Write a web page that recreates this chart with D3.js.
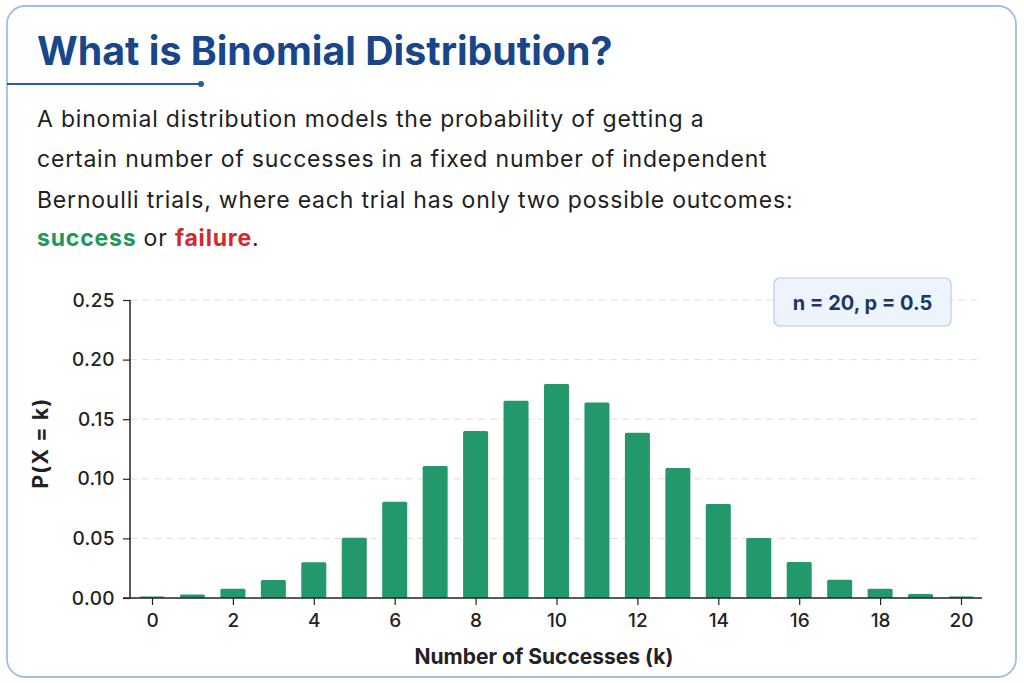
<!DOCTYPE html>
<html>
<head>
<meta charset="utf-8">
<script src="https://d3js.org/d3.v7.min.js"></script>
<style>
  html, body { margin: 0; padding: 0; background: #fff; }
  svg { display: block; }
</style>
</head>
<body>
<div id="chart"></div>
<script>
// chart data
var kValues = [0, 1, 2, 3, 4, 5, 6, 7, 8, 9, 10, 11, 12, 13, 14, 15, 16, 17, 18, 19, 20];
var probs = [0.0012, 0.0030, 0.0078, 0.0150, 0.0300, 0.0505, 0.0808, 0.1107, 0.1400, 0.1655,
             0.1795, 0.1640, 0.1387, 0.1090, 0.0788, 0.0503, 0.0302, 0.0153, 0.0078, 0.0034, 0.0013];
var yTicks = [0, 0.05, 0.10, 0.15, 0.20, 0.25];
var xTicks = [0, 2, 4, 6, 8, 10, 12, 14, 16, 18, 20];

var titleText = "What is Binomial Distribution?";
var bodyLines = [
  "A binomial distribution models the probability of getting a",
  "certain number of successes in a fixed number of independent",
  "Bernoulli trials, where each trial has only two possible outcomes:"
];
var legendText = "n = 20, p = 0.5";

var W = 1024, H = 683;
var font = "Inter, 'Open Sans', sans-serif";

var svg = d3.select("#chart").append("svg")
  .attr("width", W)
  .attr("height", H);

// card
svg.append("rect")
  .attr("x", 7).attr("y", 6)
  .attr("width", 1009).attr("height", 671)
  .attr("rx", 18)
  .attr("fill", "#fff")
  .attr("stroke", "#a6bde2")
  .attr("stroke-width", 1.8);

// title
svg.append("text")
  .attr("x", 37).attr("y", 65)
  .attr("font-family", font)
  .attr("font-size", 39.3)
  .attr("font-weight", 700)
  .attr("fill", "#17478a")
  .text(titleText);

svg.append("line")
  .attr("x1", 7).attr("x2", 200)
  .attr("y1", 84).attr("y2", 84)
  .attr("stroke", "#2a5ca3")
  .attr("stroke-width", 2);
svg.append("circle")
  .attr("cx", 201).attr("cy", 84).attr("r", 3)
  .attr("fill", "#2a5ca3");

// body text
var body = svg.append("g")
  .attr("font-family", font)
  .attr("font-size", 23)
  .attr("letter-spacing", 0.8)
  .attr("fill", "#1e1e1e");

body.selectAll(".line")
  .data(bodyLines)
  .enter().append("text")
  .attr("class", "line")
  .attr("x", 37)
  .attr("y", function(d, i){ return 127 + i * 40.3; })
  .text(function(d){ return d; });

var last = body.append("text")
  .attr("x", 37).attr("y", 246);
last.append("tspan").attr("fill", "#23975b").attr("font-weight", 700).text("success");
last.append("tspan").text(" or ");
last.append("tspan").attr("fill", "#cf2a2e").attr("font-weight", 700).text("failure");
last.append("tspan").text(".");

// plot scales
var x = d3.scaleLinear().domain([0, 20]).range([152, 961]);
var y = d3.scaleLinear().domain([0, 0.25]).range([598, 300]);
var barW = 25;

// grid
svg.append("g")
  .selectAll("line")
  .data(yTicks.slice(1))
  .enter().append("line")
  .attr("x1", 130).attr("x2", 982)
  .attr("y1", function(d){ return y(d); })
  .attr("y2", function(d){ return y(d); })
  .attr("stroke", "#dedede")
  .attr("stroke-width", 1)
  .attr("stroke-dasharray", "7,5");

// bars
svg.append("g")
  .selectAll("rect")
  .data(probs)
  .enter().append("rect")
  .attr("x", function(d, i){ return x(kValues[i]) - barW / 2; })
  .attr("y", function(d){ return y(d); })
  .attr("width", barW)
  .attr("height", function(d){ return y(0) - y(d); })
  .attr("rx", 1.5)
  .attr("fill", "#23986a");

// y axis
var yAxis = svg.append("g")
  .attr("transform", "translate(130,0)")
  .call(d3.axisLeft(y).tickValues(yTicks).tickFormat(d3.format(".2f")).tickSize(7).tickPadding(8));
yAxis.select(".domain").attr("stroke", "#222").attr("stroke-width", 1.5).attr("d", "M0,300V598");
yAxis.selectAll(".tick line").attr("stroke", "#222").attr("stroke-width", 1.2);
yAxis.selectAll("text")
  .attr("font-family", font)
  .attr("font-size", 19)
  .attr("font-weight", 500)
  .attr("letter-spacing", 0.4)
  .attr("fill", "#222");

// x axis
var xAxis = svg.append("g")
  .attr("transform", "translate(0,598)")
  .call(d3.axisBottom(x).tickValues(xTicks).tickFormat(d3.format("d")).tickSize(7).tickPadding(9));
xAxis.select(".domain").attr("stroke", "#222").attr("stroke-width", 1.5).attr("d", "M123,0H982");
xAxis.selectAll(".tick line").attr("stroke", "#222").attr("stroke-width", 1.2);
xAxis.selectAll("text")
  .attr("font-family", font)
  .attr("font-size", 19)
  .attr("font-weight", 500)
  .attr("fill", "#222");

// axis titles
svg.append("text")
  .attr("transform", "translate(48,443) rotate(-90)")
  .attr("text-anchor", "middle")
  .attr("font-family", font)
  .attr("font-size", 21)
  .attr("font-weight", 700)
  .attr("letter-spacing", 1.2)
  .attr("fill", "#222")
  .text("P(X = k)");

svg.append("text")
  .attr("x", 544).attr("y", 664)
  .attr("text-anchor", "middle")
  .attr("font-family", font)
  .attr("font-size", 21)
  .attr("font-weight", 700)
  .attr("fill", "#222")
  .text("Number of Successes (k)");

// legend box
var lg = svg.append("g").attr("transform", "translate(774,278)");
lg.append("rect")
  .attr("width", 177).attr("height", 48)
  .attr("rx", 6)
  .attr("fill", "#eef4fc")
  .attr("stroke", "#b6cbe8")
  .attr("stroke-width", 1.2);
lg.append("text")
  .attr("x", 88.5).attr("y", 31.5)
  .attr("text-anchor", "middle")
  .attr("font-family", font)
  .attr("font-size", 20)
  .attr("font-weight", 700)
  .attr("fill", "#1c3767")
  .text(legendText);
</script>
</body>
</html>
